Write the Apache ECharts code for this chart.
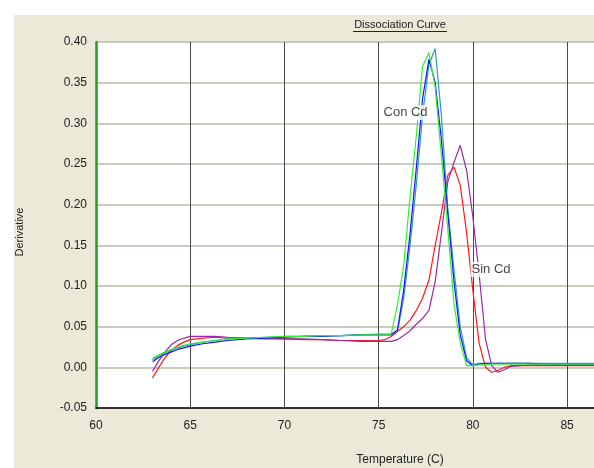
<!DOCTYPE html>
<html>
<head>
<meta charset="utf-8">
<script src="https://cdn.jsdelivr.net/npm/echarts@6/dist/echarts.min.js"></script>
<style>
  html, body { margin: 0; padding: 0; background: #ffffff; }
  #chart { width: 594px; height: 468px; }
</style>
</head>
<body>
<div id="chart"></div>
<script>
// Melt temperatures (C) shared by every well
const temperatures = [
  63, 63.33, 63.67, 64, 64.33, 64.67, 65, 65.67, 66.33, 67,
  68, 69, 70, 71, 72, 73, 74, 75, 75.33, 75.67,
  76, 76.33, 76.67, 77, 77.33, 77.67, 78, 78.33, 78.67, 79,
  79.33, 79.67, 80, 80.33, 80.67, 81, 81.33, 81.67, 82, 83,
  84, 85, 86, 87
];

// Derivative (-dF/dT) per well
const conGreen = [
  0.011, 0.015, 0.019, 0.022, 0.025, 0.027, 0.029, 0.031, 0.033, 0.035,
  0.036, 0.037, 0.038, 0.038, 0.039, 0.039, 0.040, 0.040, 0.040, 0.041,
  0.077, 0.125, 0.210, 0.285, 0.370, 0.387, 0.345, 0.260, 0.170, 0.078,
  0.030, 0.002, 0.002, 0.003, 0.003, 0.004, 0.004, 0.004, 0.004, 0.004,
  0.004, 0.004, 0.004, 0.004
];
const conBlue = [
  0.007, 0.012, 0.016, 0.019, 0.022, 0.024, 0.026, 0.029, 0.031, 0.033,
  0.035, 0.036, 0.037, 0.038, 0.038, 0.039, 0.040, 0.040, 0.040, 0.040,
  0.046, 0.095, 0.165, 0.245, 0.330, 0.379, 0.350, 0.280, 0.190, 0.105,
  0.040, 0.008, 0.002, 0.004, 0.005, 0.005, 0.005, 0.005, 0.005, 0.005,
  0.004, 0.004, 0.004, 0.004
];
const conTeal = [
  0.009, 0.014, 0.018, 0.021, 0.024, 0.026, 0.028, 0.031, 0.033, 0.035,
  0.036, 0.037, 0.038, 0.038, 0.039, 0.039, 0.040, 0.041, 0.041, 0.041,
  0.044, 0.085, 0.150, 0.225, 0.310, 0.372, 0.392, 0.310, 0.195, 0.120,
  0.050, 0.012, 0.003, 0.005, 0.005, 0.005, 0.005, 0.005, 0.005, 0.005,
  0.005, 0.005, 0.005, 0.005
];
const sinRed = [
  -0.013, 0.000, 0.012, 0.021, 0.027, 0.031, 0.034, 0.036, 0.037, 0.036,
  0.036, 0.035, 0.035, 0.034, 0.034, 0.033, 0.033, 0.033, 0.034, 0.038,
  0.044, 0.050, 0.058, 0.070, 0.085, 0.107, 0.150, 0.190, 0.236, 0.246,
  0.224, 0.165, 0.095, 0.030, 0.000, -0.006, -0.004, 0.000, 0.002, 0.002,
  0.002, 0.002, 0.002, 0.002
];
const sinPurple = [
  -0.005, 0.008, 0.019, 0.028, 0.033, 0.036, 0.038, 0.038, 0.038, 0.037,
  0.036, 0.036, 0.035, 0.035, 0.034, 0.033, 0.032, 0.032, 0.032, 0.032,
  0.034, 0.039, 0.045, 0.053, 0.060, 0.070, 0.105, 0.165, 0.228, 0.252,
  0.273, 0.242, 0.185, 0.115, 0.035, 0.002, -0.006, -0.003, 0.001, 0.003,
  0.003, 0.003, 0.003, 0.003
];

// Group annotations placed in data space
const groupNames = ['Con Cd', 'Sin Cd'];
const groupTemps = [75.18, 79.85];
const groupValues = [0.3134, 0.1204];

const wells = [
  { name: 'Sin Cd red', values: sinRed, color: '#ff1a1a' },
  { name: 'Sin Cd purple', values: sinPurple, color: '#9a2aa8' },
  { name: 'Con Cd teal', values: conTeal, color: '#2a9fae' },
  { name: 'Con Cd blue', values: conBlue, color: '#1414ff' },
  { name: 'Con Cd green', values: conGreen, color: '#33ee33' }
];

const FONT = "'Liberation Sans', Arial, sans-serif";

const chart = echarts.init(document.getElementById('chart'), null, { renderer: 'canvas' });

const lineSeries = wells.map(w => ({
  type: 'line',
  name: w.name,
  data: temperatures.map((t, i) => [t, w.values[i]]),
  showSymbol: false,
  symbol: 'none',
  lineStyle: { color: w.color, width: 1.2 },
  itemStyle: { color: w.color },
  emphasis: { disabled: true },
  clip: true,
  z: 3
}));

const labelSeries = {
  type: 'scatter',
  data: groupNames.map((n, i) => ({ name: n, value: [groupTemps[i], groupValues[i]] })),
  symbolSize: 1,
  itemStyle: { color: 'rgba(0,0,0,0)' },
  emphasis: { disabled: true },
  label: {
    show: true,
    position: 'right',
    distance: 0,
    formatter: p => p.name,
    color: '#111111',
    textBorderWidth: 0,
    fontFamily: FONT,
    fontSize: 13,
    backgroundColor: '#ffffff',
    padding: [1, 1, 1, 1]
  },
  silent: true,
  z: 6
};

chart.setOption({
  animation: false,
  backgroundColor: '#ffffff',
  grid: {
    left: 96, right: 0, top: 42, bottom: 60,
    show: true, backgroundColor: '#ffffff', borderWidth: 0
  },
  xAxis: {
    type: 'value',
    min: 60, max: 86.43, interval: 5,
    axisLine: { show: true, onZero: false, lineStyle: { color: '#000', width: 1.5 } },
    axisTick: { show: false },
    axisLabel: {
      margin: 12, color: '#222', fontFamily: FONT, fontSize: 12,
      showMaxLabel: false,
      formatter: v => (Math.abs(v % 5) < 1e-6 ? String(v) : '')
    },
    splitLine: { show: true, lineStyle: { color: '#4a4a4a', width: 1 } }
  },
  yAxis: {
    type: 'value',
    min: -0.05, max: 0.40, interval: 0.05,
    axisLine: { show: true, onZero: false, lineStyle: { color: '#22a022', width: 2.5 } },
    axisTick: { show: false },
    axisLabel: {
      margin: 9, color: '#222', fontFamily: FONT, fontSize: 12,
      formatter: v => v.toFixed(2)
    },
    splitLine: { show: true, lineStyle: { color: '#bdb7a8', width: 1.5 } }
  },
  graphic: [
    {
      type: 'rect', z: -100,
      shape: { x: 14, y: 15, width: 580, height: 453 },
      style: { fill: '#ece9d8' }
    },
    {
      type: 'text', z: 10, x: 400, y: 25,
      style: {
        text: 'Dissociation Curve', fill: '#222',
        font: '11px ' + FONT, textAlign: 'center', textVerticalAlign: 'middle'
      }
    },
    {
      type: 'line', z: 10,
      shape: { x1: 353, y1: 31.5, x2: 447, y2: 31.5 },
      style: { stroke: '#222', lineWidth: 1 }
    },
    {
      type: 'text', z: 10, x: 400, y: 460,
      style: {
        text: 'Temperature (C)', fill: '#222',
        font: '12px ' + FONT, textAlign: 'center', textVerticalAlign: 'middle'
      }
    },
    {
      type: 'text', z: 10, x: 20, y: 232, rotation: Math.PI / 2,
      style: {
        text: 'Derivative', fill: '#222',
        font: '11px ' + FONT, textAlign: 'center', textVerticalAlign: 'middle'
      }
    }
  ],
  series: [...lineSeries, labelSeries]
});
</script>
</body>
</html>
